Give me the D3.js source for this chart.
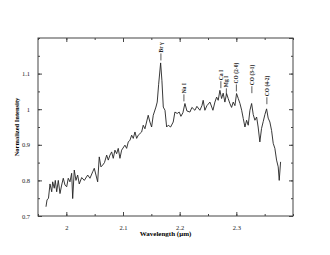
<!DOCTYPE html>
<html>
<head>
<meta charset="utf-8">
<script src="https://cdn.jsdelivr.net/npm/d3@7"></script>
<style>
  body { margin: 0; background: #fff; }
  text { font-family: "Liberation Serif", "DejaVu Serif", serif; }
</style>
</head>
<body>
<div id="chart"></div>
<script>
// Spectrum
const wavelength = [
  1.9641, 1.9659, 1.9685, 1.9712, 1.9742, 1.9759, 1.9787, 1.9805, 1.9830, 1.9858,
  1.9888, 1.9918, 1.9946, 1.9976, 2.0006, 2.0034, 2.0064, 2.0094, 2.0112, 2.0140,
  2.0170, 2.0200, 2.0228, 2.0271, 2.0317, 2.0377, 2.0417, 2.0465, 2.0493, 2.0523,
  2.0553, 2.0581, 2.0611, 2.0641, 2.0673, 2.0712, 2.0740, 2.0770, 2.0800, 2.0828,
  2.0858, 2.0888, 2.0916, 2.0946, 2.0976, 2.1034, 2.1064, 2.1093, 2.1123, 2.1153,
  2.1181, 2.1211, 2.1241, 2.1269, 2.1329, 2.1357, 2.1387, 2.1445, 2.1475, 2.1505,
  2.1534, 2.1581, 2.1604, 2.1629, 2.1664, 2.1687, 2.1711, 2.1741, 2.1770, 2.1798,
  2.1840, 2.1886, 2.1916, 2.1957, 2.1992, 2.2022, 2.2057, 2.2093, 2.2128, 2.2181,
  2.2216, 2.2269, 2.2304, 2.2357, 2.2393, 2.2415, 2.2445, 2.2481, 2.2534, 2.2587,
  2.2622, 2.2652, 2.2680, 2.2710, 2.2740, 2.2768, 2.2798, 2.2828, 2.2856, 2.2886,
  2.2916, 2.2945, 2.2975, 2.3004, 2.3034, 2.3064, 2.3094, 2.3122, 2.3152, 2.3181,
  2.3210, 2.3240, 2.3270, 2.3298, 2.3328, 2.3358, 2.3385, 2.3415, 2.3445, 2.3474,
  2.3504, 2.3534, 2.3562, 2.3592, 2.3622, 2.3651, 2.3680, 2.3710, 2.3739, 2.3757,
  2.3781
];
const intensity = [
  0.726, 0.745, 0.750, 0.790, 0.768, 0.796, 0.778, 0.800, 0.768, 0.800,
  0.763, 0.787, 0.806, 0.787, 0.782, 0.806, 0.796, 0.820, 0.749, 0.829,
  0.800, 0.815, 0.790, 0.808, 0.800, 0.815, 0.806, 0.824, 0.834, 0.815,
  0.796, 0.866, 0.838, 0.843, 0.850, 0.871, 0.857, 0.871, 0.880, 0.862,
  0.885, 0.875, 0.890, 0.862, 0.885, 0.899, 0.890, 0.908, 0.913, 0.927,
  0.918, 0.936, 0.918, 0.927, 0.936, 0.955, 0.945, 0.983, 0.964, 0.950,
  0.983, 1.006, 1.020, 1.070, 1.130, 1.080, 1.006, 0.997, 0.950, 0.955,
  0.950, 0.964, 0.992, 0.988, 0.992, 0.980, 0.990, 1.016, 0.995, 0.992,
  1.005, 0.997, 1.008, 0.997, 1.010, 1.025, 0.997, 1.010, 1.020, 0.997,
  1.020, 1.034, 1.025, 1.053, 1.030, 1.045, 1.020, 1.044, 1.030, 1.016,
  1.005, 1.020, 1.010, 1.044, 1.030, 1.016, 0.997, 0.974, 0.950, 0.969,
  0.955, 0.997, 1.016, 0.985, 0.969, 0.978, 0.950, 0.908, 0.946, 0.965,
  0.985, 1.001, 0.975, 0.964, 0.940, 0.904, 0.890, 0.857, 0.838, 0.800,
  0.852
];

// Line identifications: name, wavelength, level of the marker foot
const lineNames = ["Br \u03b3", "Na I", "Ca I", "Mg I", "CO (2-0)", "CO (3-1)", "CO (4-2)"];
const lineWave  = [2.1669, 2.2075, 2.2727, 2.2824, 2.3001, 2.3274, 2.3539];
const lineLevel = [1.137, 1.022, 1.059, 1.039, 1.050, 1.045, 1.014];

const xTicks = [2, 2.1, 2.2, 2.3];
const yTicks = [0.7, 0.8, 0.9, 1, 1.1];

let width = 330, height = 255;
let margin = { top: 38, bottom: 39, left: 38, right: 37 };

let svg = d3.select('#chart')
    .append('svg')
    .attr('width', width)
    .attr('height', height);

const xScale = d3.scaleLinear()
    .domain([1.95, 2.4])
    .range([margin.left, width - margin.right]);

const yScale = d3.scaleLinear()
    .domain([0.7, 1.2])
    .range([height - margin.bottom, margin.top]);

const axisColor = '#444';
const fmt = d => String(+d.toFixed(2));

// minor ticks every 0.05
const xMinor = d3.range(1.95, 2.4001, 0.05).map(d => +d.toFixed(2));
const yMinor = d3.range(0.7, 1.2001, 0.05).map(d => +d.toFixed(2));

function styleAxis(g) {
    g.select('.domain').remove();
    g.selectAll('line').attr('stroke', axisColor);
    g.selectAll('text')
        .attr('fill', '#222')
        .style('font-size', '6.5px');
}

// bottom axis (inward ticks)
svg.append('g')
    .attr('transform', `translate(0,${height - margin.bottom})`)
    .call(d3.axisBottom(xScale).tickValues(xMinor).tickSize(-2).tickFormat(''))
    .call(styleAxis);
svg.append('g')
    .attr('transform', `translate(0,${height - margin.bottom})`)
    .call(d3.axisBottom(xScale).tickValues(xTicks).tickSize(-4).tickPadding(9).tickFormat(fmt))
    .call(styleAxis);

// top axis
svg.append('g')
    .attr('transform', `translate(0,${margin.top})`)
    .call(d3.axisTop(xScale).tickValues(xMinor).tickSize(-2).tickFormat(''))
    .call(styleAxis);
svg.append('g')
    .attr('transform', `translate(0,${margin.top})`)
    .call(d3.axisTop(xScale).tickValues(xTicks).tickSize(-4).tickFormat(''))
    .call(styleAxis);

// left axis
svg.append('g')
    .attr('transform', `translate(${margin.left},0)`)
    .call(d3.axisLeft(yScale).tickValues(yMinor).tickSize(-2).tickFormat(''))
    .call(styleAxis);
svg.append('g')
    .attr('transform', `translate(${margin.left},0)`)
    .call(d3.axisLeft(yScale).tickValues(yTicks).tickSize(-4).tickPadding(8).tickFormat(fmt))
    .call(styleAxis);

// right axis
svg.append('g')
    .attr('transform', `translate(${width - margin.right},0)`)
    .call(d3.axisRight(yScale).tickValues(yMinor).tickSize(-2).tickFormat(''))
    .call(styleAxis);
svg.append('g')
    .attr('transform', `translate(${width - margin.right},0)`)
    .call(d3.axisRight(yScale).tickValues(yTicks.concat([1.2])).tickSize(-4).tickFormat(''))
    .call(styleAxis);

// frame
svg.append('rect')
    .attr('x', margin.left)
    .attr('y', margin.top)
    .attr('width', width - margin.left - margin.right)
    .attr('height', height - margin.top - margin.bottom)
    .attr('fill', 'none')
    .attr('stroke', axisColor)
    .attr('stroke-width', 1);

// spectrum
const points = wavelength.map((w, i) => [w, intensity[i]]);
let line = d3.line()
    .x(d => xScale(d[0]))
    .y(d => yScale(d[1]));

svg.append('path')
    .datum(points)
    .attr('d', line)
    .attr('fill', 'none')
    .attr('stroke', '#222')
    .attr('stroke-width', 0.9)
    .attr('stroke-linejoin', 'round');

// line identifications
lineNames.forEach((name, i) => {
    const x = xScale(lineWave[i]);
    const y = yScale(lineLevel[i]);
    svg.append('line')
        .attr('x1', x).attr('x2', x)
        .attr('y1', y).attr('y2', y - 7)
        .attr('stroke', '#333')
        .attr('stroke-width', 0.8);
    svg.append('text')
        .attr('transform', `translate(${x + 2},${y - 8}) rotate(-90)`)
        .style('font-size', '5.5px')
        .style('font-weight', 'bold')
        .attr('fill', '#222')
        .text(name);
});

// axis labels
svg.append('text')
    .attr('x', (margin.left + width - margin.right) / 2)
    .attr('y', 236)
    .attr('text-anchor', 'middle')
    .style('font-size', '7px')
    .style('font-weight', 'bold')
    .text('Wavelength (\u03bcm)');

svg.append('text')
    .attr('transform', `translate(19,${(margin.top + height - margin.bottom) / 2}) rotate(-90)`)
    .attr('text-anchor', 'middle')
    .style('font-size', '6.5px')
    .style('font-weight', 'bold')
    .text('Normalized Intensity');
</script>
</body>
</html>
